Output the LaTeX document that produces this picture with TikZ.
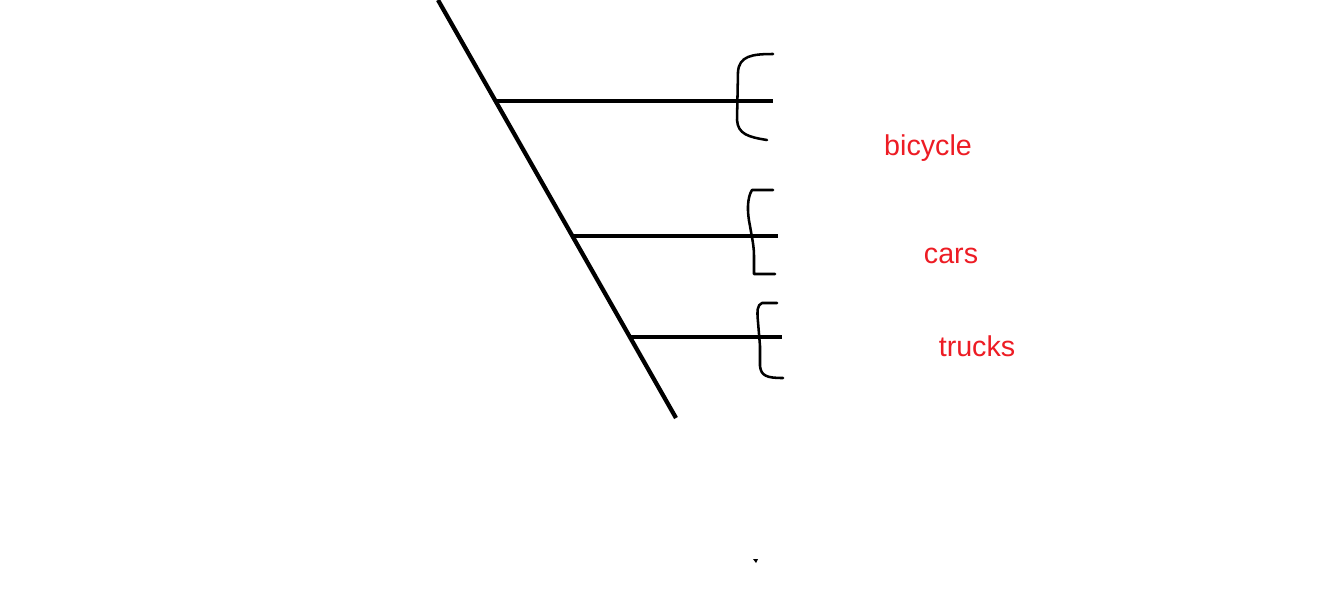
\documentclass[tikz,border=0pt]{standalone}
\usepackage{fontspec}
\setmainfont{Liberation Sans}
\definecolor{paintred}{RGB}{237,28,36}

\begin{document}
\begin{tikzpicture}[x=0.75pt,y=-0.75pt,
  stem/.style={line width=3.2pt},
  brace/.style={line width=1.9pt, line cap=round, line join=round},
  vehicle/.style={text=paintred, font=\fontsize{21.5}{26}\selectfont, inner sep=0pt}]
\useasboundingbox (0,0) rectangle (1338,615);
% main slanted line
\coordinate (top) at (438,0);
\coordinate (bottom) at (676,418);
\draw[stem] (top) -- (bottom);
% branches
\coordinate (b1) at (496,101);
\coordinate (b2) at (572,236);
\coordinate (b3) at (630,337);
\coordinate (e1) at (773,101);
\coordinate (e2) at (778,236);
\coordinate (e3) at (782,337);
\draw[stem] (b1) -- (e1);
\draw[stem] (b2) -- (e2);
\draw[stem] (b3) -- (e3);
% braces
\draw[brace] (773,54) .. controls (752,54) and (739,56) .. (738,72) -- (737,120) .. controls (738,134) and (748,137) .. (767,140);
\draw[brace] (773,190) -- (752,190) .. controls (747,198) and (747,212) .. (750,226) .. controls (752,238) and (754,246) .. (754,256) -- (754,274) -- (775,274);
\draw[brace] (777,303) -- (762,303) .. controls (757,305) and (757,311) .. (758,322) -- (760,346) -- (760,366) .. controls (761,376) and (767,378) .. (783,378);
% labels
\path (928,148) node[vehicle] (bicycle) {bicycle};
\path (951,256) node[vehicle] (cars) {cars};
\path (977,346) node[vehicle] (trucks) {trucks};
% stray dot
\fill (753,559) -- (758,559) -- (756,563) -- cycle;
\end{tikzpicture}
\end{document}
